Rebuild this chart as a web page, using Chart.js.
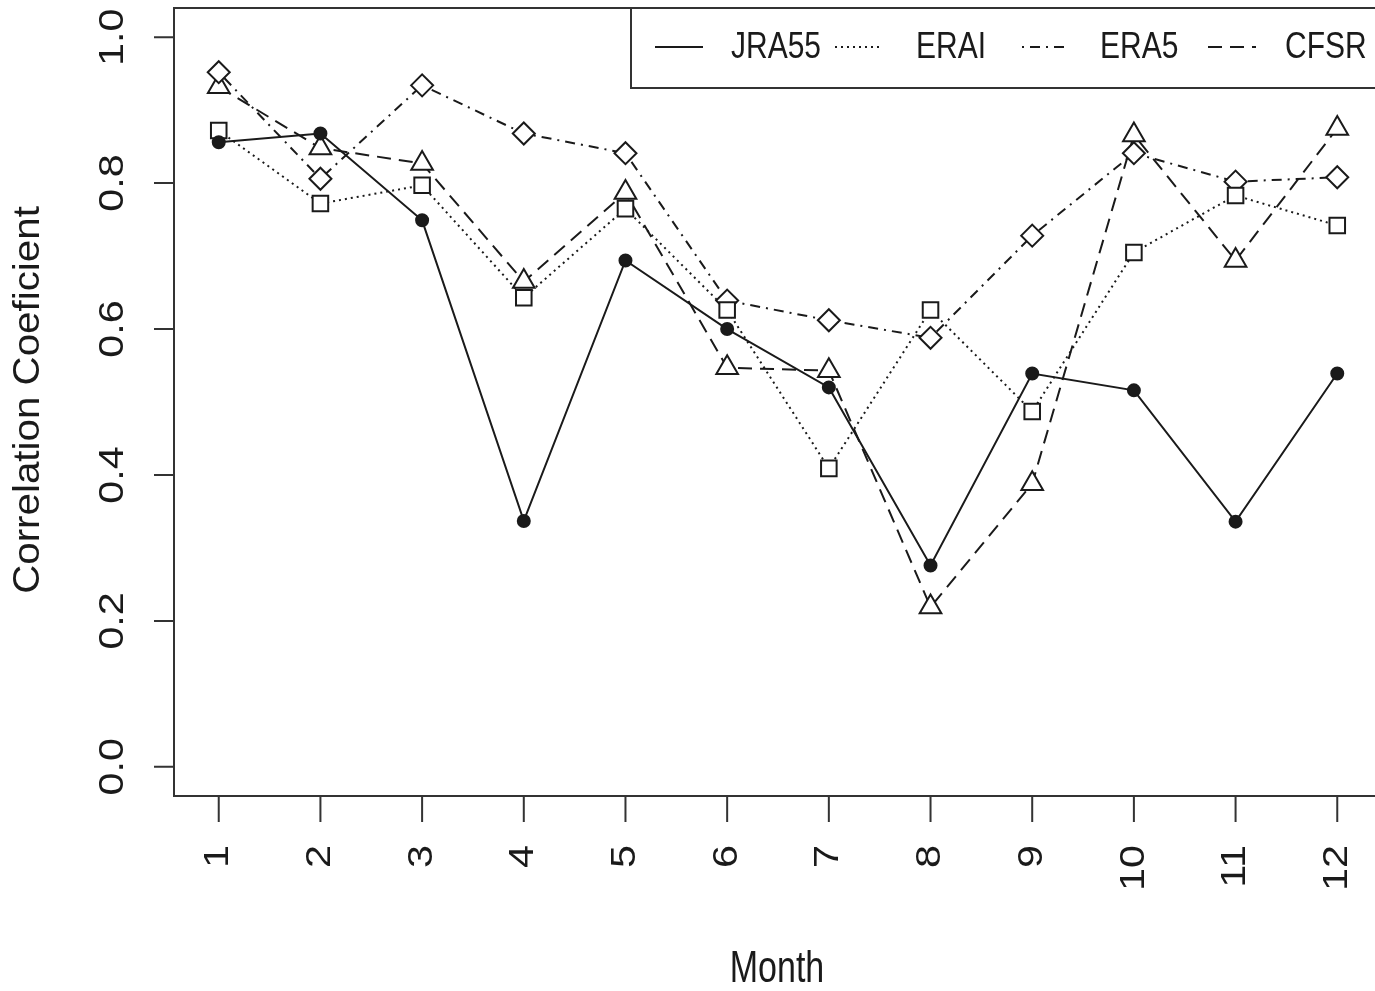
<!DOCTYPE html>
<html>
<head>
<meta charset="utf-8">
<script src="https://cdn.jsdelivr.net/npm/chart.js@4/dist/chart.umd.min.js"></script>
<style>
  html, body { margin: 0; padding: 0; background: #fff; overflow: hidden; }
  canvas { display: block; }
</style>
</head>
<body>
<canvas id="c" width="1390" height="991"></canvas>
<script>
// monthly correlation coefficients per reanalysis
const months = [1, 2, 3, 4, 5, 6, 7, 8, 9, 10, 11, 12];
const jra55 = [0.856, 0.868, 0.749, 0.337, 0.694, 0.600, 0.520, 0.276, 0.539, 0.516, 0.336, 0.539];
const erai  = [0.872, 0.772, 0.797, 0.643, 0.765, 0.626, 0.409, 0.626, 0.487, 0.705, 0.783, 0.742];
const era5  = [0.952, 0.806, 0.934, 0.868, 0.841, 0.639, 0.612, 0.588, 0.728, 0.841, 0.802, 0.808];
const cfsr  = [0.932, 0.848, 0.827, 0.665, 0.787, 0.547, 0.543, 0.219, 0.388, 0.866, 0.694, 0.875];
const yTicks = [0.0, 0.2, 0.4, 0.6, 0.8, 1.0];

const INK = '#1a1a1a';
const FONT = '"Liberation Sans", Arial, sans-serif';

const toPts = arr => arr.map((v, i) => ({ x: months[i], y: v }));

function series(label, data, style, radius, dash) {
    return {
        label, data: toPts(data),
        borderColor: INK, borderWidth: 2, borderDash: dash,
        pointStyle: style, pointRadius: radius, pointHoverRadius: radius,
        pointBorderColor: INK, pointBorderWidth: 2,
        pointBackgroundColor: style === 'circle' ? INK : '#fff',
        tension: 0, fill: false
    };
}

// R-style axes, labels and legend drawn on top of the plot
const rAxes = {
    id: 'rAxes',
    afterDraw(chart) {
        const { ctx, chartArea: a, scales: { x, y } } = chart;
        ctx.save();
        ctx.strokeStyle = '#333';
        ctx.lineWidth = 2;
        ctx.setLineDash([]);
        ctx.strokeRect(a.left, a.top, a.right - a.left, a.bottom - a.top);

        ctx.fillStyle = INK;
        const text = (s, px, py, size, sy, rot, align) => {
            ctx.save();
            ctx.translate(px, py);
            ctx.scale(1, sy);
            if (rot) ctx.rotate(-Math.PI / 2);
            ctx.font = size + 'px ' + FONT;
            ctx.textAlign = align;
            ctx.textBaseline = 'middle';
            ctx.fillText(s, 0, 0);
            ctx.restore();
        };

        // y axis
        ctx.beginPath();
        yTicks.forEach(t => {
            const py = y.getPixelForValue(t);
            ctx.moveTo(a.left, py); ctx.lineTo(a.left - 20, py);
        });
        ctx.stroke();
        yTicks.forEach(t => text(t.toFixed(1), 113, y.getPixelForValue(t), 35, 1.18, true, 'center'));

        // x axis
        ctx.beginPath();
        months.forEach(m => {
            const px = x.getPixelForValue(m);
            ctx.moveTo(px, a.bottom); ctx.lineTo(px, a.bottom + 26);
        });
        ctx.stroke();
        months.forEach(m => text(String(m), x.getPixelForValue(m), 845, 35, 1.18, true, 'right'));

        text('Month', 777, 970, 34, 1.3, false, 'center');
        text('Correlation Coeficient', 29, 400, 36, 1.12, true, 'center');

        // legend
        const lx = 631, ly = a.top, lh = 80;
        ctx.fillStyle = '#fff';
        ctx.fillRect(lx, ly, a.right - lx, lh);
        ctx.strokeStyle = '#333';
        ctx.strokeRect(lx, ly, a.right - lx, lh);
        const items = chart.data.datasets;
        const segX = [655, 835, 1022, 1208];
        const txtX = [731, 916, 1100, 1285];
        items.forEach((ds, i) => {
            ctx.strokeStyle = INK;
            ctx.lineWidth = 2;
            ctx.setLineDash(ds.borderDash || []);
            ctx.beginPath();
            ctx.moveTo(segX[i], ly + 39); ctx.lineTo(segX[i] + 48, ly + 39);
            ctx.stroke();
            ctx.setLineDash([]);
            ctx.fillStyle = INK;
            text(ds.label, txtX[i], ly + 40, 30, 1.25, false, 'left');
        });
        ctx.restore();
    }
};

new Chart(document.getElementById('c'), {
    type: 'line',
    data: {
        datasets: [
            series('JRA55', jra55, 'circle', 6, []),
            series('ERAI', erai, 'rect', 11, [2, 4]),
            series('ERA5', era5, 'rectRot', 11, [2, 6, 10, 6]),
            series('CFSR', cfsr, 'triangle', 12.5, [14, 8])
        ]
    },
    options: {
        responsive: false,
        animation: false,
        devicePixelRatio: 1,
        layout: { autoPadding: false, padding: { left: 174, top: 8, right: 8, bottom: 195 } },
        plugins: { legend: { display: false }, tooltip: { enabled: false } },
        scales: {
            x: { type: 'linear', min: 0.56, max: 12.44, display: false },
            y: { type: 'linear', min: -0.04, max: 1.04, display: false }
        }
    },
    plugins: [rAxes]
});
</script>
</body>
</html>
